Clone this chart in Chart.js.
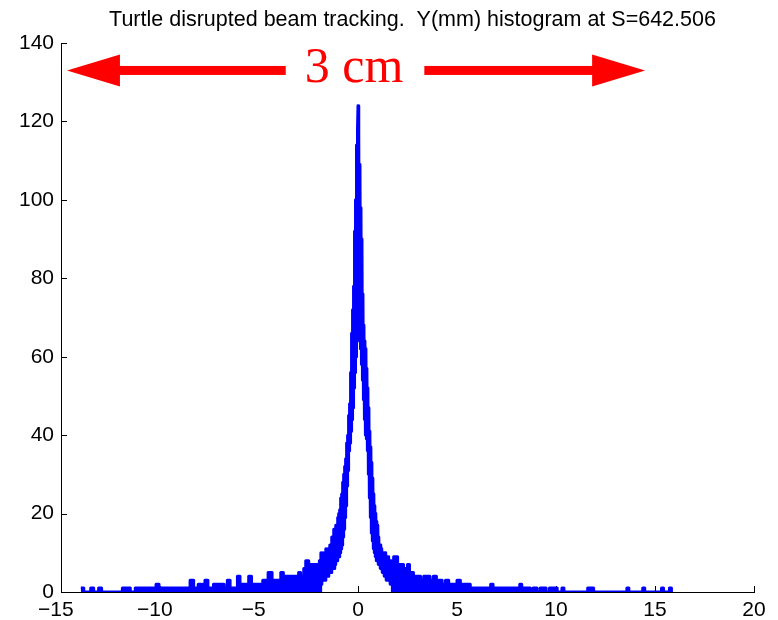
<!DOCTYPE html>
<html>
<head>
<meta charset="utf-8">
<script src="https://cdn.jsdelivr.net/npm/chart.js@4.4.1/dist/chart.umd.min.js"></script>
<style>
    body { margin: 0; background: #fff; }
    #wrap { width: 778px; height: 620px; }
</style>
</head>
<body>
<div id="wrap"><canvas id="histChart"></canvas></div>
<script>
// Axis ticks
const xTicks = [-15, -10, -5, 0, 5, 10, 15, 20];
const yTicks = [0, 20, 40, 60, 80, 100, 120, 140];

// Central peak, one count per 0.025 mm bin
const coreStart = -1.95;
const coreBinWidth = 0.025;
const coreCounts = [
    3, 8, 2, 10, 2, 9, 3, 10, 3, 9,
    4, 10, 3, 11, 4, 10, 5, 11, 4, 10,
    5, 12, 6, 12, 5, 14, 6, 13, 7, 16,
    6, 15, 7, 17, 8, 16, 8, 19, 9, 20,
    9, 21, 10, 24, 11, 25, 12, 28, 14, 30,
    16, 32, 19, 34, 22, 38, 27, 40, 31, 45,
    36, 48, 38, 56, 41, 66, 44, 72, 47, 78,
    52, 92, 56, 100, 60, 114, 64, 118, 124, 70,
    117, 66, 109, 62, 98, 58, 90, 54, 76, 49,
    68, 44, 64, 40, 62, 39, 57, 36, 52, 30,
    47, 24, 41, 19, 37, 15, 33, 13, 29, 11,
    25, 10, 22, 9, 20, 8, 18, 8, 17, 7,
    14, 7, 12, 6, 12, 6, 11, 5, 10, 5,
    10, 4, 10, 4, 10, 3, 9, 3, 9, 3,
    9, 3, 8, 2, 8, 2, 8, 2, 7, 2,
    7];

// Tails: level changes (x in mm, count)
const leftTailX = [-14.0, -13.85, -13.5, -13.35, -13.1, -12.95, -11.9, -11.5, -11.25, -10.2,
    -10.05, -8.48, -8.3, -8.07, -7.93, -7.87, -7.77, -7.73, -7.58, -7.3,
    -6.76, -6.6, -6.46, -6.09, -5.96, -5.52, -5.38, -4.81, -4.64, -4.54,
    -4.34, -3.9, -3.77, -3.4, -3.0, -2.9, -2.74, -2.64, -2.49, -2.2,
    -1.95, -1.8];
const leftTailCounts = [1, 0, 1, 0, 1, 0, 1, 0, 1, 2,
    1, 3, 1, 2, 1, 2, 1, 3, 1, 2,
    1, 3, 1, 4, 2, 4, 2, 3, 2, 5,
    3, 5, 4, 4, 5, 4, 6, 8, 7, 7,
    8, 8];
const rightTailX = [1.65, 1.8, 2.0, 2.3, 2.5, 2.6, 2.8, 3.16, 3.32, 3.63,
    3.8, 3.96, 4.25, 4.42, 4.58, 5.0, 5.17, 5.67, 6.7, 6.82,
    8.17, 8.27, 8.7, 8.84, 9.04, 9.2, 9.5, 9.67, 10.06, 10.3,
    10.4, 11.6, 11.9, 13.58, 13.68, 14.38, 14.48, 15.33, 15.43, 15.73,
    15.83];
const rightTailCounts = [7, 9, 7, 6, 7, 5, 4, 3, 4, 3,
    4, 3, 2, 3, 2, 3, 2, 1, 2, 1,
    2, 1, 0, 1, 0, 1, 0, 1, 0, 1,
    0, 1, 0, 1, 0, 1, 0, 1, 0, 1,
    0];

// Annotation: the "3 cm" double arrow (mm, count)
const arrowFrom = -14.7;
const arrowTo = 14.5;
const arrowLevel = 133;
const arrowLabelAt = -0.2;

const titleText = 'Turtle disrupted beam tracking.  Y(mm) histogram at S=642.506';
const blue = '#0000ff';
const red = '#ff0000';
const sans = '"Liberation Sans", Arial, Helvetica, sans-serif';

const corePoints = coreCounts.map((c, i) => ({ x: coreStart + i * coreBinWidth, y: c }));
const leftTailPoints = leftTailX.map((x, i) => ({ x: x, y: leftTailCounts[i] }));
const rightTailPoints = rightTailX.map((x, i) => ({ x: x, y: rightTailCounts[i] }));

function tickLabel(v) {
    return v < 0 ? '\u2212' + Math.abs(v) + '\u2002' : String(v);
}

// MATLAB style ticks pointing into the plot
const inwardTicks = {
    id: 'inwardTicks',
    beforeDatasetsDraw(chart) {
        const { ctx, chartArea: a, scales: { x, y } } = chart;
        ctx.save();
        ctx.strokeStyle = '#000';
        ctx.lineWidth = 1;
        ctx.beginPath();
        xTicks.forEach(v => {
            const px = Math.round(x.getPixelForValue(v)) + 0.5;
            ctx.moveTo(px, a.bottom);
            ctx.lineTo(px, a.bottom - 6);
        });
        yTicks.forEach(v => {
            const py = Math.round(y.getPixelForValue(v)) + 0.5;
            ctx.moveTo(a.left, py);
            ctx.lineTo(a.left + 6, py);
        });
        ctx.stroke();
        ctx.restore();
    }
};

// Title and the red arrow
const extras = {
    id: 'extras',
    afterDraw(chart) {
        const { ctx, chartArea: a, scales: { x, y } } = chart;
        ctx.save();

        ctx.fillStyle = '#000';
        ctx.font = '21.5px ' + sans;
        ctx.textAlign = 'center';
        ctx.textBaseline = 'alphabetic';
        ctx.fillText(titleText, (a.left + a.right) / 2 + 5, 26);

        const x0 = x.getPixelForValue(arrowFrom);
        const x1 = x.getPixelForValue(arrowTo);
        const yc = y.getPixelForValue(arrowLevel);
        const tx = x.getPixelForValue(arrowLabelAt);
        const head = 53, half = 16, shaft = 4.5;

        ctx.font = '50px "Liberation Serif", "Times New Roman", serif';
        const tw = ctx.measureText('3 cm').width;
        const leftEnd = tx - tw / 2 - 19;
        const rightStart = tx + tw / 2 + 21;

        ctx.fillStyle = red;
        ctx.beginPath();
        ctx.moveTo(x0, yc);
        ctx.lineTo(x0 + head, yc - half);
        ctx.lineTo(x0 + head, yc + half);
        ctx.closePath();
        ctx.fill();
        ctx.fillRect(x0 + head - 1, yc - shaft, leftEnd - (x0 + head - 1), shaft * 2);

        ctx.beginPath();
        ctx.moveTo(x1, yc);
        ctx.lineTo(x1 - head, yc - half);
        ctx.lineTo(x1 - head, yc + half);
        ctx.closePath();
        ctx.fill();
        ctx.fillRect(rightStart, yc - shaft, (x1 - head + 1) - rightStart, shaft * 2);

        ctx.fillText('3 cm', tx, yc + 12);
        ctx.restore();
    }
};

const ctx = document.getElementById('histChart').getContext('2d');
new Chart(ctx, {
    type: 'line',
    data: {
        datasets: [
            {
                data: corePoints,
                borderColor: blue,
                borderWidth: 3,
                borderJoinStyle: 'round',
                borderCapStyle: 'round',
                pointRadius: 0,
                fill: false,
                tension: 0
            },
            {
                data: leftTailPoints,
                stepped: true,
                borderColor: blue,
                backgroundColor: blue,
                borderWidth: 3,
                borderJoinStyle: 'round',
                pointRadius: 0,
                fill: 'origin'
            },
            {
                data: rightTailPoints,
                stepped: true,
                borderColor: blue,
                backgroundColor: blue,
                borderWidth: 3,
                borderJoinStyle: 'round',
                pointRadius: 0,
                fill: 'origin'
            }
        ]
    },
    options: {
        responsive: true,
        maintainAspectRatio: false,
        animation: false,
        layout: { padding: { top: 43, right: 24, bottom: 0, left: 0 } },
        plugins: {
            legend: { display: false },
            tooltip: { enabled: false },
            title: { display: false }
        },
        scales: {
            x: {
                type: 'linear',
                min: -15,
                max: 20,
                afterFit: s => { s.height = 28; },
                afterBuildTicks: s => { s.ticks = xTicks.map(v => ({ value: v })); },
                grid: { display: false, drawTicks: false },
                border: { display: true, color: '#000', width: 1 },
                ticks: {
                    color: '#000',
                    font: { family: sans, size: 21 },
                    padding: 6,
                    maxRotation: 0,
                    autoSkip: false,
                    callback: v => tickLabel(v)
                }
            },
            y: {
                type: 'linear',
                min: 0,
                max: 140,
                afterFit: s => { s.width = 61; },
                afterBuildTicks: s => { s.ticks = yTicks.map(v => ({ value: v })); },
                grid: { display: false, drawTicks: false },
                border: { display: true, color: '#000', width: 1 },
                ticks: {
                    color: '#000',
                    font: { family: sans, size: 21 },
                    padding: 7,
                    autoSkip: false,
                    callback: v => String(v)
                }
            }
        }
    },
    plugins: [inwardTicks, extras]
});
</script>
</body>
</html>
